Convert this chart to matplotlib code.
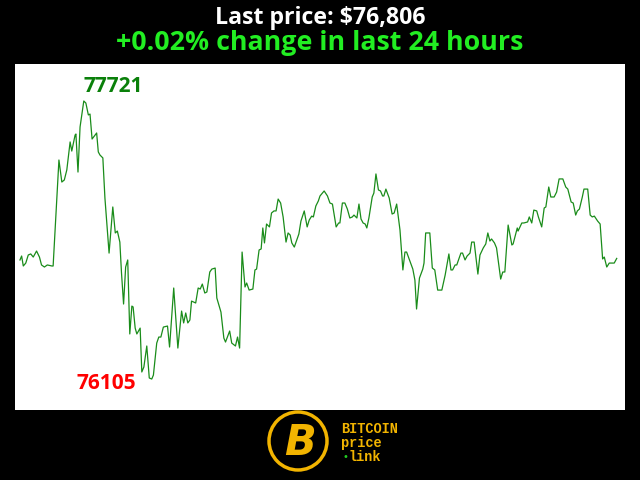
import matplotlib
matplotlib.use("Agg")
import matplotlib.pyplot as plt
from matplotlib.patches import Circle

# minutes since start of the 24 h window
minutes = [0, 4, 8, 14, 20, 26, 32, 40, 47, 52, 59, 66, 77, 80, 87, 94, 101, 107, 113, 121,
           125, 133, 135, 140, 145, 154, 159, 165, 169, 174, 185, 189, 193, 200, 205, 215, 224, 230, 235, 241,
           245, 250, 255, 260, 265, 270, 273, 278, 282, 290, 294, 299, 306, 312, 318, 322, 330, 335, 340, 346,
           356, 361, 371, 381, 390, 395, 400, 405, 410, 414, 424, 430, 435, 440, 446, 451, 458, 463, 471, 475,
           485, 492, 496, 506, 511, 520, 525, 530, 536, 543, 547, 553, 562, 567, 571, 577, 582, 586, 590, 595,
           602, 607, 613, 618, 623, 629, 635, 642, 647, 652, 656, 662, 668, 673, 678, 686, 693, 698, 704, 708,
           714, 720, 724, 734, 742, 748, 754, 763, 769, 772, 778, 784, 790, 796, 802, 806, 813, 818, 823, 828,
           833, 837, 842, 850, 854, 859, 865, 870, 875, 878, 883, 891, 898, 903, 909, 917, 924, 929, 933, 948,
           953, 957, 964, 972, 975, 979, 989, 995, 1001, 1008, 1018, 1026, 1035, 1040, 1044, 1050, 1054, 1064, 1068, 1074,
           1079, 1086, 1090, 1096, 1105, 1110, 1118, 1124, 1129, 1134, 1138, 1145, 1150, 1160, 1165, 1170, 1178, 1187, 1190, 1200,
           1202, 1211, 1216, 1225, 1229, 1235, 1240, 1247, 1251, 1259, 1265, 1269, 1276, 1281, 1289, 1295, 1301, 1310, 1317, 1322,
           1330, 1335, 1341, 1345, 1350, 1357, 1361, 1370, 1376, 1381, 1386, 1394, 1400, 1406, 1410, 1416, 1422, 1434, 1440]

prices = [76797, 76820, 76762, 76779, 76826, 76832, 76814, 76849, 76814, 76768, 76756, 76768, 76762, 76762, 77070, 77378, 77250, 77262, 77320, 77483,
          77430, 77523, 77529, 77308, 77570, 77721, 77709, 77640, 77645, 77500, 77535, 77425, 77407, 77390, 77157, 76837, 77105, 76954, 76965, 76901,
          76721, 76541, 76756, 76797, 76367, 76529, 76524, 76401, 76367, 76401, 76146, 76175, 76297, 76111, 76105, 76128, 76314, 76349, 76349, 76407,
          76413, 76291, 76634, 76285, 76500, 76431, 76489, 76431, 76448, 76558, 76547, 76634, 76628, 76657, 76605, 76611, 76727, 76744, 76750, 76576,
          76494, 76343, 76320, 76384, 76314, 76297, 76349, 76285, 76843, 76640, 76663, 76622, 76628, 76739, 76744, 76855, 76861, 76983, 76896, 77006,
          76989, 77070, 77082, 77082, 77151, 77128, 77047, 76901, 76954, 76942, 76896, 76872, 76913, 76948, 77023, 77082, 76989, 77029, 77052, 77047,
          77111, 77140, 77169, 77198, 77169, 77128, 77122, 76989, 77012, 77012, 77128, 77128, 77093, 77041, 77047, 77058, 77041, 77122, 77035, 77012,
          77006, 76983, 77041, 77163, 77186, 77297, 77204, 77198, 77169, 77169, 77209, 77157, 77064, 77070, 77122, 76971, 76739, 76843, 76843, 76744,
          76680, 76512, 76692, 76744, 76779, 76954, 76954, 76750, 76739, 76622, 76622, 76709, 76832, 76739, 76739, 76768, 76768, 76837, 76837, 76797,
          76820, 76837, 76901, 76901, 76715, 76826, 76867, 76890, 76954, 76907, 76919, 76896, 76867, 76686, 76727, 76727, 77000, 76884, 76890, 76983,
          76965, 77012, 77012, 77018, 77047, 77012, 77087, 77082, 77047, 76989, 77099, 77105, 77221, 77163, 77163, 77192, 77268, 77268, 77221, 77209,
          77134, 77128, 77058, 77082, 77093, 77163, 77209, 77209, 77058, 77047, 77052, 77023, 77006, 76803, 76814, 76756, 76779, 76779, 76806]

title_price = "Last price: $76,806"
title_change = "+0.02% change in last 24 hours"

hi = max(prices)
lo = min(prices)
i_hi = prices.index(hi)
i_lo = prices.index(lo)

fig = plt.figure(figsize=(6.4, 4.8), dpi=100, facecolor="black")

ax = fig.add_axes([15 / 640, 70 / 480, 610 / 640, 346 / 480])
ax.set_facecolor("white")
ax.plot(minutes, prices, color="#1a8c1a", linewidth=0.9)
ax.set_xlim(-12, 1460)
ax.set_ylim(lo - 180, hi + 215)
ax.set_xticks([])
ax.set_yticks([])
for s in ax.spines.values():
    s.set_visible(False)

# min / max labels
ax.annotate(str(hi), xy=(minutes[i_hi], hi), xytext=(0, 3), textcoords="offset points",
            ha="left", va="bottom", color="#0a800a", fontsize=15, fontweight="bold",
            family="Open Sans")
ax.annotate(str(lo), xy=(minutes[i_lo], lo), xytext=(-11, -3), textcoords="offset points",
            ha="right", va="center", color="#ff0000", fontsize=15, fontweight="bold",
            family="Open Sans")

# overlay in pixel coordinates for titles and logo
ov = fig.add_axes([0, 0, 1, 1])
ov.set_xlim(0, 640)
ov.set_ylim(480, 0)
ov.axis("off")
ov.patch.set_alpha(0)

ov.text(320, 18, title_price, ha="center", va="center", color="white",
        fontsize=16.7, fontweight="bold", family="Open Sans")
ov.text(320, 43, title_change, ha="center", va="center", color="#22ee22",
        fontsize=19.3, fontweight="bold", family="Open Sans")

gold = "#f2b400"
ov.add_patch(Circle((298, 441), 29, facecolor="black", edgecolor=gold, linewidth=2.5))
ov.text(300, 443, "B", ha="center", va="center", color=gold, fontsize=30,
        fontweight="bold", style="italic", family="DejaVu Sans")
ov.text(341, 429, "BITCOIN", ha="left", va="center", color=gold, fontsize=9.8,
        fontweight="bold", family="Liberation Mono")
ov.text(341, 443, "price", ha="left", va="center", color=gold, fontsize=9.8,
        fontweight="bold", family="Liberation Mono")
ov.text(342, 457, "\u2022", ha="left", va="center", color="#22cc22", fontsize=7,
        family="DejaVu Sans")
ov.text(349, 457, "link", ha="left", va="center", color=gold, fontsize=9.8,
        fontweight="bold", family="Liberation Mono")

fig.savefig("out.png", dpi=100, facecolor="black")
